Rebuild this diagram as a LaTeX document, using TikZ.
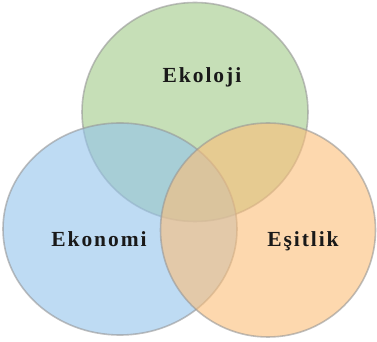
\documentclass[tikz,border=0pt]{standalone}
\usepackage{fontspec}
\setmainfont{Liberation Serif}
\usetikzlibrary{shapes.geometric, positioning}

\definecolor{ekogreen}{RGB}{160,203,135}
\definecolor{ekoblue}{RGB}{147,195,235}
\definecolor{ekoorange}{RGB}{252,190,120}
\definecolor{ekorim}{RGB}{150,150,150}

\tikzset{
  set/.style={ellipse, draw=ekorim, draw opacity=0.6, line width=1.6pt, fill opacity=0.6, inner sep=0pt},
  setlabel/.style={anchor=base, font=\addfontfeatures{LetterSpace=9}\fontsize{21.5}{25}\selectfont\bfseries, text=black!90}
}

\begin{document}
\begin{tikzpicture}[x=1pt, y=1pt]
        \useasboundingbox (0,0) rectangle (377,342);
        \fill[white] (0,0) rectangle (377,342);

        \node[set, fill=ekogreen, minimum width=226pt, minimum height=219pt] (ekoloji) at (195,230) {};
        \node[set, fill=ekoblue, minimum width=234pt, minimum height=212pt] (ekonomi) at (120,113) {};
        \node[set, fill=ekoorange, minimum width=215pt, minimum height=214pt] (esitlik) at (268,112) {};

        \node[setlabel] (ekolojitext) at (202,259) {Ekoloji};
        \node[setlabel] (ekonomitext) at (99,95) {Ekonomi};
        \node[setlabel] (esitliktext) at (303,95) {Eşitlik};
\end{tikzpicture}
\end{document}
